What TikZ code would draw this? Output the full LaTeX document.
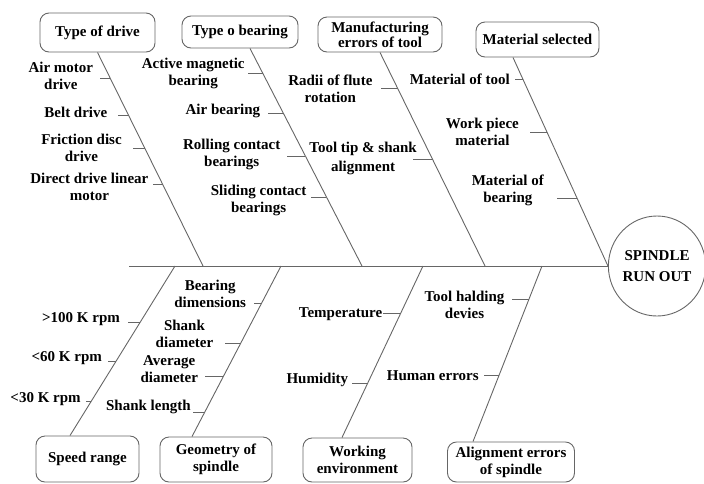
\documentclass[tikz,border=0pt]{standalone}
\usepackage{fontspec}
\setmainfont{Liberation Serif}
\usetikzlibrary{positioning, shapes.geometric, calc}
\newcommand{\fishfont}{\fontsize{15}{17}\selectfont\bfseries}
\colorlet{boneline}{black!60}
\tikzset{
  cause/.style={draw=boneline, line width=0.9pt, rounded corners=9pt, align=center, font=\fishfont, inner sep=2pt},
  bone/.style={draw=boneline, line width=0.9pt},
  tick/.style={draw=boneline, line width=0.9pt},
  lbl/.style={font=\fishfont, align=center, inner sep=0pt},
}

\begin{document}
\begin{tikzpicture}[x=1pt, y=-1pt]
\useasboundingbox (0,0) rectangle (704,483);

% Head and cause boxes
\node[ellipse, draw=boneline, line width=0.9pt, minimum width=95, minimum height=100, align=center, font=\fishfont, inner sep=0pt] (run) at (657,266) {SPINDLE\\[4pt]RUN OUT};
\node[cause, minimum width=115, minimum height=39] (drive) at (97.5,32.5) {Type of drive};
\node[cause, minimum width=116, minimum height=32] (bearing) at (240,32) {Type o bearing};
\node[cause, minimum width=124, minimum height=35, font=\fontsize{15}{13}\selectfont\bfseries] (manuf) at (380,34.5) {Manufacturing\\errors of tool};
\node[cause, minimum width=123, minimum height=35] (material) at (537.5,39.5) {Material selected};
\node[cause, minimum width=103, minimum height=46] (speed) at (87.5,459) {Speed range};
\node[cause, minimum width=112, minimum height=45] (geom) at (216,459.5) {Geometry of\\spindle};
\node[cause, minimum width=109, minimum height=44] (envir) at (357.5,460) {Working\\environment};
\node[cause, minimum width=127, minimum height=40] (align) at (511,462) {Alignment errors\\of spindle};

% Spine
\coordinate (tail) at (129,266);
\draw[bone] (tail) -- (run.west);
\coordinate (s1) at (203,266);
\coordinate (s2) at (362,266);
\coordinate (s3) at (485,266);
\coordinate (s4) at (run.west);
\coordinate (s5) at (175,266);
\coordinate (s6) at (281,266);
\coordinate (s7) at (423,266);
\coordinate (s8) at (542,266);

% Upper bones
\coordinate (b1) at (drive.south);
\coordinate (b2) at ([xshift=10pt]bearing.south);
\coordinate (b3) at (manuf.south);
\coordinate (b4) at ([xshift=-24.5pt]material.south);
\draw[bone] (b1) -- (s1);
\draw[bone] (b2) -- (s2);
\draw[bone] (b3) -- (s3);
\draw[bone] (b4) -- (s4);

% Lower bones
\coordinate (b5) at ([xshift=-17.5pt]speed.north);
\coordinate (b6) at ([xshift=-24pt]geom.north);
\coordinate (b7) at ([xshift=-15.5pt]envir.north);
\coordinate (b8) at ([xshift=-38pt]align.north);
\draw[bone] (s5) -- (b5);
\draw[bone] (s6) -- (b6);
\draw[bone] (s7) -- (b7);
\draw[bone] (s8) -- (b8);

% Type of drive
\coordinate (d1) at ($(b1)!0.1215!(s1)$);
\draw[tick] (d1) -- ++(-10,0) coordinate (d1e);
\node[lbl, left=7pt of d1e, yshift=2.5pt] (airmotor) {Air motor\\drive};
\coordinate (d2) at ($(b1)!0.294!(s1)$);
\draw[tick] (d2) -- ++(-11,0) coordinate (d2e);
\node[lbl, left=10pt of d2e, yshift=3pt] (belt) {Belt drive};
\coordinate (d3) at ($(b1)!0.449!(s1)$);
\draw[tick] (d3) -- ++(-12,0) coordinate (d3e);
\node[lbl, left=11pt of d3e] (friction) {Friction disc\\drive};
\coordinate (d4) at ($(b1)!0.617!(s1)$);
\draw[tick] (d4) -- ++(-10,0) coordinate (d4e);
\node[lbl, left=4pt of d4e, yshift=-2.5pt] (linear) {Direct drive linear\\motor};

% Type o bearing
\coordinate (e1) at ($(b2)!0.1147!(s2)$);
\draw[tick] (e1) -- ++(-15,0) coordinate (e1e);
\node[lbl, left=3pt of e1e] (magnetic) {Active magnetic\\bearing};
\coordinate (e2) at ($(b2)!0.298!(s2)$);
\draw[tick] (e2) -- ++(-15,0) coordinate (e2e);
\node[lbl, left=8pt of e2e, yshift=2pt] (air) {Air bearing};
\coordinate (e3) at ($(b2)!0.495!(s2)$);
\draw[tick] (e3) -- ++(-18,0) coordinate (e3e);
\node[lbl, left=7pt of e3e, yshift=2pt] (rolling) {Rolling contact\\bearings};
\coordinate (e4) at ($(b2)!0.683!(s2)$);
\draw[tick] (e4) -- ++(-15,0) coordinate (e4e);
\node[lbl, left=5pt of e4e, yshift=-3.5pt] (sliding) {Sliding contact\\bearings};

% Manufacturing errors of tool
\coordinate (f1) at ($(b3)!0.168!(s3)$);
\draw[tick] (f1) -- ++(-17,0) coordinate (f1e);
\node[lbl, left=8pt of f1e] (flute) {Radii of flute\\rotation};
\coordinate (f2) at ($(b3)!0.5!(s3)$);
\draw[tick] (f2) -- ++(-19.5,0) coordinate (f2e);
\node[lbl, left=-4pt of f2e, yshift=2.5pt, text depth=0pt] (tooltip) {Tool tip \& shank\\[2pt]alignment};

% Material selected
\coordinate (m1) at ($(b4)!0.105!(s4)$);
\draw[tick] (m1) -- ++(-8,0) coordinate (m1e);
\node[lbl, left=5pt of m1e] (mattool) {Material of tool};
\coordinate (m2) at ($(b4)!0.359!(s4)$);
\draw[tick] (m2) -- ++(-17,0) coordinate (m2e);
\node[lbl, left=11pt of m2e] (workpiece) {Work piece\\material};
\coordinate (m3) at ($(b4)!0.675!(s4)$);
\draw[tick] (m3) -- ++(-20,0) coordinate (m3e);
\node[lbl, left=13pt of m3e, yshift=7.5pt] (matbear) {Material of\\bearing};

% Speed range
\coordinate (r1) at ($(s5)!0.333!(b5)$);
\draw[tick] (r1) -- ++(-12,0) coordinate (r1e);
\node[lbl, left=8pt of r1e, yshift=3pt] (rpmhigh) {>100 K rpm};
\coordinate (r2) at ($(s5)!0.561!(b5)$);
\draw[tick] (r2) -- ++(-8,0) coordinate (r2e);
\node[lbl, left=6pt of r2e, yshift=3pt] (rpmmid) {<60 K rpm};
\coordinate (r3) at ($(s5)!0.801!(b5)$);
\draw[tick] (r3) -- ++(-5,0) coordinate (r3e);
\node[lbl, left=5pt of r3e, yshift=3pt] (rpmlow) {<30 K rpm};

% Geometry of spindle
\coordinate (g1) at ($(s6)!0.222!(b6)$);
\draw[tick] (g1) -- ++(-7,0) coordinate (g1e);
\node[lbl, left=8pt of g1e, yshift=10pt] (beardim) {Bearing\\dimensions};
\coordinate (g2) at ($(s6)!0.456!(b6)$);
\draw[tick] (g2) -- ++(-15,0) coordinate (g2e);
\node[lbl, left=12pt of g2e, yshift=9.5pt] (shankdia) {Shank\\diameter};
\coordinate (g3) at ($(s6)!0.649!(b6)$);
\draw[tick] (g3) -- ++(-18,0) coordinate (g3e);
\node[lbl, left=7pt of g3e, yshift=7.5pt] (avgdia) {Average\\diameter};
\coordinate (g4) at ($(s6)!0.86!(b6)$);
\draw[tick] (g4) -- ++(-11.5,0) coordinate (g4e);
\node[lbl, left=2pt of g4e, yshift=6pt] (shanklen) {Shank length};

% Working environment
\coordinate (w1) at ($(s7)!0.279!(b7)$);
\draw[tick] (w1) -- ++(-17,0) coordinate (w1e);
\node[lbl, left=1pt of w1e] (temp) {Temperature};
\coordinate (w2) at ($(s7)!0.686!(b7)$);
\draw[tick] (w2) -- ++(-15,0) coordinate (w2e);
\node[lbl, left=4pt of w2e, yshift=4pt] (humid) {Humidity};

% Alignment errors of spindle
\coordinate (a1) at ($(s8)!0.193!(b8)$);
\draw[tick] (a1) -- ++(-17,0) coordinate (a1e);
\node[lbl, left=7pt of a1e, yshift=-4.5pt] (toolhold) {Tool halding\\devies};
\coordinate (a2) at ($(s8)!0.625!(b8)$);
\draw[tick] (a2) -- ++(-15,0) coordinate (a2e);
\node[lbl, left=5pt of a2e] (human) {Human errors};
\end{tikzpicture}
\end{document}
